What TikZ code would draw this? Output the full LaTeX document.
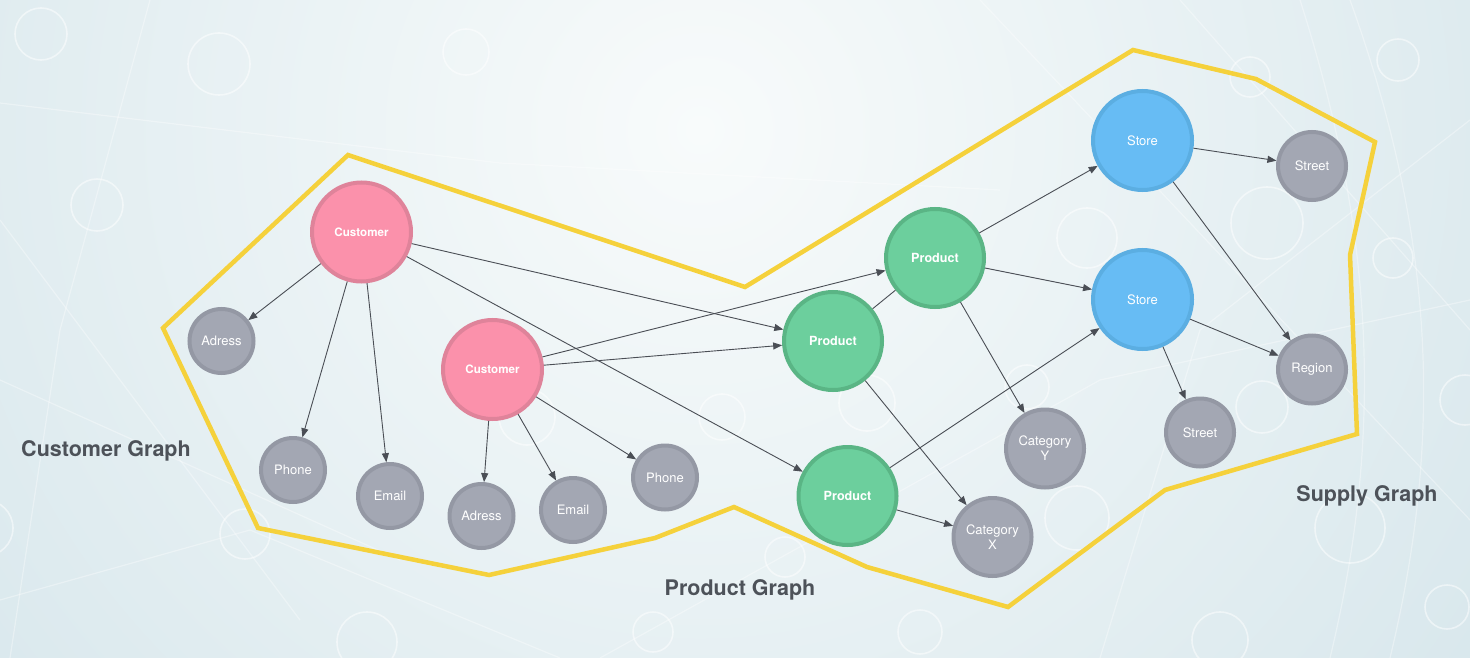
\documentclass[tikz,border=0pt]{standalone}
\usepackage{fontspec}
\setmainfont{TeX Gyre Heros}
\usetikzlibrary{arrows.meta}
\definecolor{bgin}{HTML}{F8FBFB}
\definecolor{bgout}{HTML}{C6DCE4}
\definecolor{custfill}{HTML}{FB91AB}
\definecolor{custline}{HTML}{DF839A}
\definecolor{prodfill}{HTML}{6CCF9D}
\definecolor{prodline}{HTML}{5AB585}
\definecolor{storefill}{HTML}{67BCF4}
\definecolor{storeline}{HTML}{5BAEE2}
\definecolor{attrfill}{HTML}{A3A7B3}
\definecolor{attrline}{HTML}{9498A4}
\definecolor{edgecol}{HTML}{4A4E55}
\definecolor{hullcol}{HTML}{F5D13B}
\definecolor{labelcol}{HTML}{4D5259}
\begin{document}
\begin{tikzpicture}[x=1pt,y=-1pt,
  base/.style={circle, inner sep=0pt, line width=4pt, text=white, align=center},
  cust/.style={base, fill=custfill, draw=custline, minimum size=99pt,
    font=\fontsize{11.6}{13}\selectfont\bfseries},
  prod/.style={base, fill=prodfill, draw=prodline, minimum size=98pt,
    font=\fontsize{12.6}{14}\selectfont\bfseries},
  store/.style={base, fill=storefill, draw=storeline, minimum size=99pt,
    font=\fontsize{13}{14}\selectfont},
  attr/.style={base, fill=attrfill, draw=attrline, minimum size=64pt,
    font=\fontsize{13}{14}\selectfont},
  attrb/.style={attr, minimum size=68pt},
  cat/.style={attr, minimum size=78pt, font=\fontsize{13}{15}\selectfont},
  link/.style={draw=edgecol, line width=0.9pt},
  arr/.style={link, -{Triangle[length=9pt,width=7pt]}},
  hull/.style={draw=hullcol, line width=4.5pt, line join=miter},
  glabel/.style={text=labelcol, font=\fontsize{21.5}{25}\selectfont\bfseries},
  deco/.style={draw=white, opacity=0.5, line width=1.6pt},
  decoline/.style={draw=white, opacity=0.35, line width=1.2pt}
]
\useasboundingbox (0,0) rectangle (1470,658);
\begin{scope}
  \clip (0,0) rectangle (1470,658);
  \fill[bgout] (0,0) rectangle (1470,658);
  \shade[inner color=bgin, outer color=bgout] (700,130) circle (1500);
  % faint background pattern
  \draw[decoline] (0,103) -- (500,163) -- (1000,190);
  \draw[decoline] (150,0) -- (60,330) -- (10,658);
  \draw[decoline] (1350,0) .. controls (1440,250) and (1440,450) .. (1390,658);
  \draw[decoline] (1300,0) .. controls (1380,250) and (1380,450) .. (1330,658);
  \draw[decoline] (0,220) -- (300,620);
  \draw[decoline] (0,600) -- (250,530) -- (560,658);
  \draw[decoline] (1180,0) -- (1470,330);
  \draw[decoline] (1470,120) -- (1200,330) -- (1100,658);
  \draw[decoline] (980,0) -- (1470,520);
  \draw[decoline] (0,380) -- (400,560);
  \draw[decoline] (600,658) -- (1100,380) -- (1470,300);
  \draw[deco] (41,34) circle (26);
  \draw[deco] (219,64) circle (31);
  \draw[deco] (466,52) circle (23);
  \draw[deco] (97,205) circle (26);
  \draw[deco] (-15,528) circle (28);
  \draw[deco] (245,534) circle (25);
  \draw[deco] (1250,77) circle (20);
  \draw[deco] (1398,60) circle (21);
  \draw[deco] (1267,223) circle (36);
  \draw[deco] (1393,258) circle (20);
  \draw[deco] (1262,407) circle (26);
  \draw[deco] (1465,400) circle (25);
  \draw[deco] (1350,528) circle (35);
  \draw[deco] (1447,607) circle (22);
  \draw[deco] (867,403) circle (28);
  \draw[deco] (1027,387) circle (22);
  \draw[deco] (1077,518) circle (32);
  \draw[deco] (785,557) circle (20);
  \draw[deco] (653,632) circle (20);
  \draw[deco] (920,632) circle (22);
  \draw[deco] (527,417) circle (28);
  \draw[deco] (722,417) circle (23);
  \draw[deco] (367,642) circle (30);
  \draw[deco] (1220,640) circle (28);
  \draw[deco] (1087,238) circle (30);
\end{scope}

% hull
\draw[hull] (348,155) -- (745,287) -- (1133,50) -- (1256,79) -- (1375,142)
  -- (1350,255) -- (1357,434) -- (1165,490) -- (1008,607) -- (867,567)
  -- (734,507) -- (655,538) -- (489,575) -- (258,528) -- (163,328) -- cycle;

% nodes
\node[cust] (c1) at (361.5,232) {Customer};
\node[cust] (c2) at (492.5,369.5) {Customer};
\node[attr] (adr1) at (221.5,341) {Adress};
\node[attr] (ph1) at (293,470) {Phone};
\node[attr] (em1) at (390,496) {Email};
\node[attr] (adr2) at (481.5,516) {Adress};
\node[attr] (em2) at (573,510) {Email};
\node[attr] (ph2) at (665,477.5) {Phone};
\node[prod] (p1) at (935,258) {Product};
\node[prod] (p2) at (833,341) {Product};
\node[prod] (p3) at (847.5,496) {Product};
\node[cat] (cy) at (1045,448.5) {Category\\Y};
\node[cat] (cx) at (992.5,537) {Category\\X};
\node[store] (s1) at (1142.5,140.5) {Store};
\node[store] (s2) at (1142.5,299.5) {Store};
\node[attrb] (st1) at (1312,166) {Street};
\node[attrb] (reg) at (1312,369.5) {Region};
\node[attrb] (st2) at (1200,432.5) {Street};

% edges
\draw[arr] (c1) -- (adr1);
\draw[arr] (c1) -- (ph1);
\draw[arr] (c1) -- (em1);
\draw[arr] (c1) -- (p2);
\draw[arr] (c1) -- (p3);
\draw[arr] (c2) -- (p1);
\draw[arr] (c2) -- (p2);
\draw[arr] (c2) -- (adr2);
\draw[arr] (c2) -- (em2);
\draw[arr] (c2) -- (ph2);
\draw[link] (p2) -- (p1);
\draw[arr] (p1) -- (s1);
\draw[arr] (p1) -- (s2);
\draw[arr] (p1) -- (cy);
\draw[arr] (p2) -- (cx);
\draw[arr] (p3) -- (s2);
\draw[arr] (p3) -- (cx);
\draw[arr] (s1) -- (st1);
\draw[arr] (s1) -- (reg);
\draw[arr] (s2) -- (reg);
\draw[arr] (s2) -- (st2);

% group labels
\node[glabel] (lc) at (106,451) {Customer Graph};
\node[glabel] (lp) at (740,590) {Product Graph};
\node[glabel] (ls) at (1367,496) {Supply Graph};
\end{tikzpicture}
\end{document}
